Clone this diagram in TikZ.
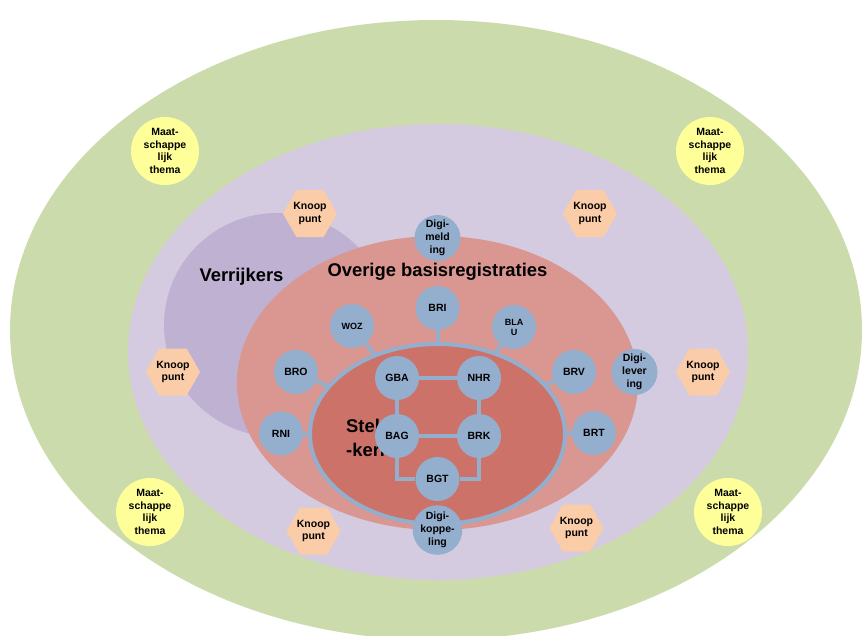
\documentclass[tikz,border=0pt]{standalone}
\usepackage{fontspec}
\setmainfont{Liberation Sans}
\usetikzlibrary{shapes.geometric}
\definecolor{cgreen}{RGB}{204,219,171}
\definecolor{clav}{RGB}{212,203,224}
\definecolor{cpurple}{RGB}{191,177,209}
\definecolor{csalmon}{RGB}{218,150,144}
\definecolor{ckern}{RGB}{204,114,105}
\definecolor{cblue}{RGB}{148,174,206}
\definecolor{cyellow}{RGB}{255,255,153}
\definecolor{cpeach}{RGB}{250,204,168}
\tikzset{
  zone/.style={ellipse, inner sep=0, outer sep=0},
  reg/.style={circle, fill=cblue, minimum size=44, inner sep=0, align=center,
    font=\bfseries\fontsize{10.5}{13}\selectfont},
  regs/.style={reg, font=\bfseries\fontsize{9}{10}\selectfont},
  digi/.style={reg, minimum size=46},
  thema/.style={circle, fill=cyellow, minimum size=68, inner sep=0, align=center,
    font=\bfseries\fontsize{10.5}{12.7}\selectfont},
  knoop/.style={regular polygon, regular polygon sides=6, fill=cpeach, minimum size=49,
    inner sep=0, align=center, font=\bfseries\fontsize{10.5}{12.5}\selectfont},
  title/.style={font=\bfseries\fontsize{18.4}{22}\selectfont, inner sep=0},
  link/.style={draw=cblue, line width=4},
}
\begin{document}
\begin{tikzpicture}[x=1pt,y=-1pt]
\useasboundingbox (0,0) rectangle (862,635);
\clip (0,0) rectangle (862,635);
% zones
\node[zone, fill=cgreen, minimum width=852, minimum height=620] (outer) at (436,330) {};
\node[zone, fill=clav, minimum width=620, minimum height=456] (lav) at (438,352) {};
\node[zone, fill=cpurple, minimum width=226, minimum height=224] (verr) at (277,325) {};
\node[zone, fill=csalmon, minimum width=401, minimum height=294] (overig) at (437.5,383) {};
\node[zone, fill=ckern, draw=cblue, line width=4, minimum width=255, minimum height=180] (kern) at (437.5,434) {};
% titles
\node[title, anchor=base] (tOverig) at (437.5,276) {Overige basisregistraties};
\node[title, anchor=base] (tVerr) at (241.5,281) {Verrijkers};
\node[title, anchor=base west] (tStel1) at (346,432) {Stelsel};
\node[title, anchor=base west] (tStel2) at (346,456) {-kern};
% registrations
\node[digi] (dm) at (437.5,238) {Digi-\\meld\\ing};
\node[reg] (bri) at (437.5,308) {BRI};
\node[regs] (woz) at (352,326) {WOZ};
\node[regs] (blau) at (514,327) {BLA\\U};
\node[reg] (bro) at (296,372) {BRO};
\node[reg] (brv) at (574,372) {BRV};
\node[digi] (dl) at (634.5,372) {Digi-\\lever\\ing};
\node[reg] (rni) at (281,433.5) {RNI};
\node[reg] (brt) at (594,433) {BRT};
\node[reg] (gba) at (397,378) {GBA};
\node[reg] (nhr) at (479,378) {NHR};
\node[reg] (bag) at (397,436) {BAG};
\node[reg] (brk) at (479,436) {BRK};
\node[reg] (bgt) at (437.5,479) {BGT};
\node[digi] (dk) at (437.5,530) {Digi-\\koppe-\\ling};
% connectors
\draw[link] (bri) -- (kern);
\draw[link] (woz) -- (kern);
\draw[link] (blau) -- (kern);
\draw[link] (bro) -- (kern);
\draw[link] (brv) -- (kern);
\draw[link] (rni) -- (kern);
\draw[link] (brt) -- (kern);
\draw[link] (gba) -- (nhr);
\draw[link] (gba) -- (bag);
\draw[link] (nhr) -- (brk);
\draw[link] (bag) -- (brk);
\draw[link] (bag.south) |- (bgt.west);
\draw[link] (brk.south) |- (bgt.east);
% knooppunten
\node[knoop] (k1) at (310,213.5) {Knoop\\punt};
\node[knoop] (k2) at (590,213.5) {Knoop\\punt};
\node[knoop] (k3) at (173,372) {Knoop\\punt};
\node[knoop] (k4) at (703,372) {Knoop\\punt};
\node[knoop] (k5) at (313.5,531) {Knoop\\punt};
\node[knoop] (k6) at (576.5,528) {Knoop\\punt};
% maatschappelijke thema's
\node[thema] (m1) at (165,151) {Maat-\\schappe\\lijk\\thema};
\node[thema] (m2) at (710,151) {Maat-\\schappe\\lijk\\thema};
\node[thema] (m3) at (150,512) {Maat-\\schappe\\lijk\\thema};
\node[thema] (m4) at (728,512) {Maat-\\schappe\\lijk\\thema};
\end{tikzpicture}
\end{document}
